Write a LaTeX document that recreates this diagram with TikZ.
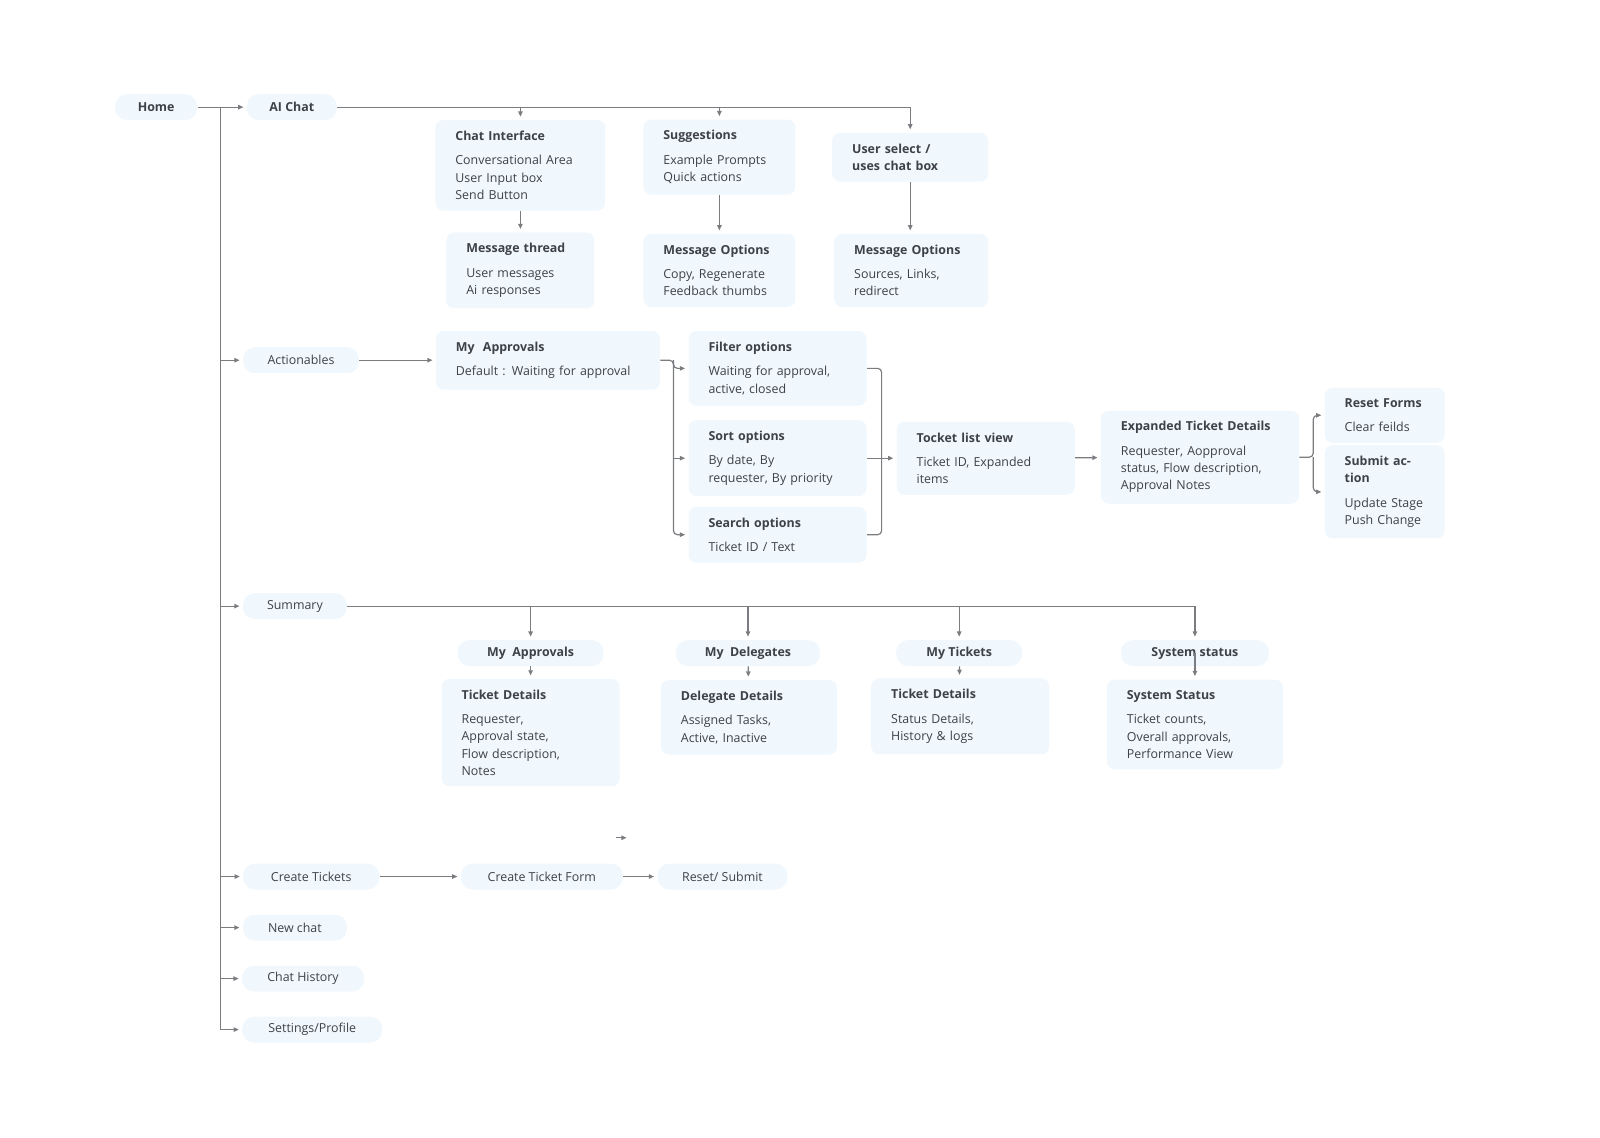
\documentclass[tikz,border=0pt]{standalone}
\usepackage{fontspec}
\setmainfont{Open Sans}
\usepackage{xcolor}
\usetikzlibrary{arrows.meta, positioning}
\definecolor{boxfill}{HTML}{F0F7FD}
\definecolor{ink}{HTML}{3E4246}
\definecolor{wire}{HTML}{7A7C80}
\newcommand{\bx}[2]{\textbf{#1}\\[3.6pt]#2}

\begin{document}
\begin{tikzpicture}[x=0.51pt, y=-0.51pt,
    box/.style={fill=boxfill, rounded corners=4pt, align=left, text=ink,
        inner xsep=10pt, inner ysep=5.5pt, text width=#1,
        font=\fontsize{6.2}{8.6}\selectfont},
    pill/.style={fill=boxfill, rounded corners=6pt, align=center, text=ink,
        inner sep=0pt, minimum height=13pt, minimum width=#1,
        font=\fontsize{6.2}{8.6}\selectfont},
    line/.style={draw=wire, line width=0.6pt},
    arr/.style={line, -{Triangle[length=2.6pt,width=2.2pt]}, shorten >=1.5pt}]
    \useasboundingbox (0,0) rectangle (1568,1115);

    % Home and AI chat
    \node[pill=41pt, font=\fontsize{6.2}{8.6}\selectfont\bfseries] (home) at (153,105) {Home};
    \node[pill=45pt, font=\fontsize{6.2}{8.6}\selectfont\bfseries] (ai) at (286,105) {AI Chat};
    \node[box=65pt] (chat) at (510,162) {\bx{Chat Interface}{Conversational Area\\User Input box\\Send Button}};
    \node[box=56pt] (sugg) at (705,154) {\bx{Suggestions}{Example Prompts\\Quick actions}};
    \node[box=58pt, font=\fontsize{6.2}{8.6}\selectfont\bfseries] (usel) at (892,154) {User select /\\uses chat box};
    \node[box=54pt] (thread) at (510,265) {\bx{Message thread}{User messages\\Ai responses}};
    \node[box=56pt] (mopt) at (705,265) {\bx{Message Options}{Copy, Regenerate\\Feedback thumbs}};
    \node[box=57pt] (mopt2) at (893,265) {\bx{Message Options}{Sources, Links,\\redirect}};

    % Actionables
    \node[pill=58pt] (act) at (295,353) {Actionables};
    \node[box=92pt] (appr) at (537,353) {\bx{My\ \ Approvals}{Default : Waiting for approval}};
    \node[box=69pt] (filt) at (762,361) {\bx{Filter options}{Waiting for approval,\\active, closed}};
    \node[box=69pt] (sort) at (762,449) {\bx{Sort options}{By date, By\\requester, By priority}};
    \node[box=69pt] (search) at (762,524) {\bx{Search options}{Ticket ID / Text}};
    \node[box=69pt] (tlist) at (966,449) {\bx{Tocket list view}{Ticket ID, Expanded\\items}};
    \node[box=79pt] (exp) at (1176,448) {\bx{Expanded Ticket Details}{Requester, Aopproval\\status, Flow description,\\Approval Notes}};
    \node[box=40pt] (reset) at (1357,407) {\bx{Reset Forms}{Clear feilds}};
    \node[box=40pt] (submit) at (1357,482) {\bx{Submit action}{Update Stage\\Push Change}};

    % Summary
    \node[pill=52pt] (sum) at (289,594) {Summary};
    \node[pill=73pt, font=\fontsize{6.2}{8.6}\selectfont\bfseries] (sappr) at (520,640) {My\ \ Approvals};
    \node[pill=72pt, font=\fontsize{6.2}{8.6}\selectfont\bfseries] (sdel) at (733,640) {My\ \ Delegates};
    \node[pill=63pt, font=\fontsize{6.2}{8.6}\selectfont\bfseries] (stick) at (940,640) {My Tickets};
    \node[pill=74pt, font=\fontsize{6.2}{8.6}\selectfont\bfseries] (ssys) at (1171,640) {System status};
    \node[box=69pt] (dappr) at (520,718) {\bx{Ticket Details}{Requester,\\Approval state,\\Flow description,\\Notes}};
    \node[box=68pt] (ddel) at (734,703) {\bx{Delegate Details}{Assigned Tasks,\\Active, Inactive}};
    \node[box=69pt] (dtick) at (941,702) {\bx{Ticket Details}{Status Details,\\History \& logs}};
    \node[box=68pt] (dsys) at (1171,710) {\bx{System Status}{Ticket counts,\\Overall approvals,\\Performance View}};

    % Other menu items
    \node[pill=68pt] (create) at (305,859) {Create Tickets};
    \node[pill=81pt] (form) at (531,859) {Create Ticket Form};
    \node[pill=65pt] (rsub) at (708,859) {Reset/ Submit};
    \node[pill=52pt] (newchat) at (289,909) {New chat};
    \node[pill=61pt] (hist) at (297,959) {Chat History};
    \node[pill=70pt] (settings) at (306,1009) {Settings/Profile};

    % connectors
    \coordinate (trunk) at (216,105);
    \draw[arr] (home) -- (ai);
    \draw[line] (trunk) -- (trunk |- settings.west);
    \foreach \n in {act, sum, create, newchat, hist, settings}
        \draw[arr, rounded corners=2pt] (trunk |- \n.west) -- (\n.west);

    \draw[arr] (ai.east) -| (usel.north);
    \draw[arr] (ai.east -| chat.north) -- (chat.north);
    \draw[arr] (ai.east -| sugg.north) -- (sugg.north);
    \draw[arr] (chat.south -| thread.north) -- (thread.north);
    \draw[arr] (sugg) -- (mopt);
    \draw[arr] (usel.south) -- (usel.south |- mopt2.north);

    \coordinate (b1) at (660,353);
    \coordinate (b2) at (864,449);
    \coordinate (b3) at (1287,448);
    \draw[arr] (act) -- (appr);
    \draw[arr, rounded corners=2pt] (appr.east) -- (b1) |- (filt.west);
    \draw[arr, rounded corners=2pt] (b1) |- (search.west);
    \draw[arr] (b1 |- sort.west) -- (sort.west);
    \draw[line, rounded corners=2pt] (filt.east) -| (b2) |- (search.east);
    \draw[arr] (sort.east) -- (tlist.west);
    \draw[arr] (tlist) -- (exp);
    \draw[arr, rounded corners=2pt] (exp.east) -- (b3) |- (reset.west);
    \draw[arr, rounded corners=2pt] (b3) |- (submit.west);

    \draw[arr] (sum.east) -| (ssys.north);
    \foreach \n in {sappr, sdel, stick}
        \draw[arr] (sum.east -| \n.north) -- (\n.north);
    \draw[arr] (sappr) -- (dappr);
    \draw[arr] (sdel) -- (ddel);
    \draw[arr] (stick) -- (dtick);
    \draw[arr] (ssys.center) -- (dsys.north);

    \draw[arr] (create) -- (form);
    \draw[arr] (form) -- (rsub);
    \coordinate (stray) at (604,821);
    \draw[arr] (stray) -- ++(13,0);
\end{tikzpicture}
\end{document}
